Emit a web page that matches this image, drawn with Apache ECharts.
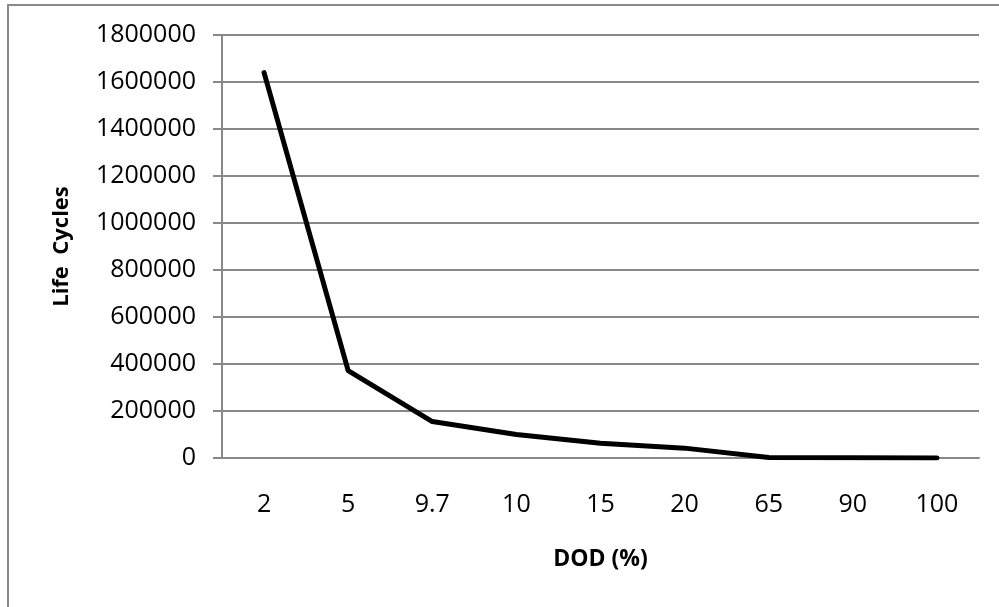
<!DOCTYPE html>
<html>
<head>
<meta charset="utf-8">
<script src="https://cdn.jsdelivr.net/npm/echarts@6/dist/echarts.min.js"></script>
<style>html,body{margin:0;padding:0;background:#fff}#c{width:999px;height:607px}</style>
</head>
<body>
<div id="c"></div>
<script>
const categories = ['2', '5', '9.7', '10', '15', '20', '65', '90', '100'];
const lifeCycles = [1640000, 372000, 155000, 100000, 63000, 42000, 2000, 1000, 500];
const yMin = 0, yMax = 1800000, yStep = 200000;
const xTitle = 'DOD (%)';
const yTitle = 'Life  Cycles';

const chart = echarts.init(document.getElementById('c'), null, {renderer: 'canvas'});
const font = '"Open Sans", sans-serif';
chart.setOption({
  animation: false,
  backgroundColor: '#fff',
  graphic: [{
    type: 'rect', shape: {x: 8, y: 5, width: 1100, height: 700},
    style: {fill: 'none', stroke: '#8a8a8a', lineWidth: 2}, silent: true
  }],
  grid: {left: 222, right: 20, top: 35, bottom: 149},
  xAxis: {
    type: 'category', data: categories, boundaryGap: true,
    name: xTitle, nameLocation: 'middle', nameGap: 90,
    nameTextStyle: {fontFamily: font, fontSize: 23, fontWeight: 'bold', color: '#000'},
    axisLine: {show: true, lineStyle: {color: '#888', width: 2}},
    axisTick: {show: false},
    axisLabel: {fontFamily: font, fontSize: 25, color: '#000', margin: 34}
  },
  yAxis: {
    type: 'value', min: yMin, max: yMax, interval: yStep,
    name: yTitle, nameLocation: 'middle', nameGap: 149,
    nameTextStyle: {fontFamily: font, fontSize: 22, fontWeight: 'bold', color: '#000'},
    axisLine: {show: true, lineStyle: {color: '#888', width: 2}},
    axisTick: {show: true, length: 9, lineStyle: {color: '#888', width: 2}},
    axisLabel: {fontFamily: font, fontSize: 25, color: '#000', margin: 26, formatter: v => String(v)},
    splitLine: {show: true, lineStyle: {color: '#888', width: 2}}
  },
  series: [{
    type: 'line', data: lifeCycles, showSymbol: false, symbol: 'none',
    lineStyle: {color: '#000', width: 5, cap: 'round', join: 'round'}
  }]
});
</script>
</body>
</html>
